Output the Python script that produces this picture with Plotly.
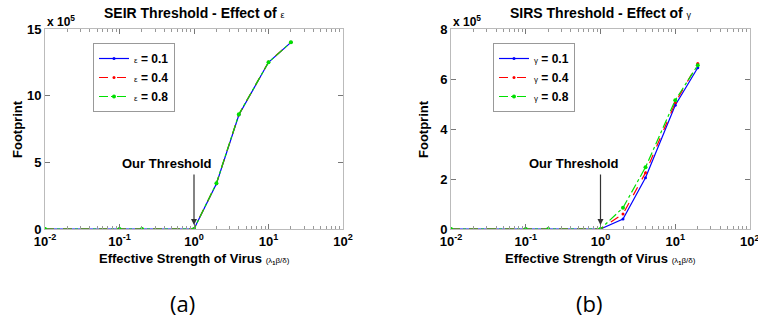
import math
import plotly.graph_objects as go

# Effective virus strength (lambda_1 * beta / delta)
strength = [0.01, 0.1, 0.2, 1, 2, 4, 10, 20]

# SEIR footprint (x 10^5) for each epsilon
seir_eps_01 = [0, 0, 0, 0, 3.40, 8.55, 12.50, 14.00]
seir_eps_04 = [0, 0, 0, 0, 3.42, 8.58, 12.52, 14.00]
seir_eps_08 = [0, 0, 0, 0, 3.43, 8.60, 12.50, 14.00]

# SIRS footprint (x 10^5) for each gamma
sirs_gam_01 = [0, 0, 0, 0, 0.40, 2.05, 4.95, 6.45]
sirs_gam_04 = [0, 0, 0, 0, 0.60, 2.25, 5.05, 6.62]
sirs_gam_08 = [0, 0, 0, 0, 0.85, 2.47, 5.15, 6.55]

labels = ["0.1", "0.4", "0.8"]
x_tickvals = [0.01, 0.1, 1, 10, 100]
x_ticktext = ["10<sup>-2</sup>", "10<sup>-1</sup>", "10<sup>0</sup>", "10<sup>1</sup>", "10<sup>2</sup>"]
seir_yticks = [0, 5, 10, 15]
sirs_yticks = [0, 2, 4, 6, 8]
threshold = 1

colors = ["#0000ff", "#ff0000", "#00e000"]
dashes = ["solid", "dash", "dashdot"]
msizes = [3, 3, 4]

W, H = 758, 323
FONT = "Liberation Sans, Arial, sans-serif"

fig = go.Figure()

def add_series(ys, sym, xa, ya, legend):
    for y, lab, c, d, ms in zip(ys, labels, colors, dashes, msizes):
        fig.add_trace(go.Scatter(
            x=strength, y=y, mode="lines+markers",
            name=f"<span style='font-size:8px;font-weight:normal'>{sym}</span> = {lab}",
            line=dict(color=c, width=1.2, dash=d),
            marker=dict(color=c, size=ms),
            xaxis=xa, yaxis=ya, legend=legend,
        ))

add_series([seir_eps_01, seir_eps_04, seir_eps_08], "ε", "x", "y", "legend")
add_series([sirs_gam_01, sirs_gam_04, sirs_gam_08], "γ", "x2", "y2", "legend2")

# minor tick positions on the log axis (2..9 per decade)
minor_vals = [m * 10 ** k for k in range(-2, 2) for m in range(2, 10)]

y_dom = [(H - 229) / H, (H - 29) / H]
left_dom = [45 / W, 343 / W]
right_dom = [451 / W, 750 / W]

def xaxis_cfg(dom, anchor):
    return dict(
        type="log", domain=dom, anchor=anchor, range=[-2, 2],
        tickvals=x_tickvals, ticktext=x_ticktext,
        ticks="inside", ticklen=5, tickcolor="#777",
        showline=True, linecolor="#bbbbbb", linewidth=1, mirror="allticks",
        showgrid=False, zeroline=False, automargin=False,
        tickfont=dict(family=FONT, size=13, color="black", weight="bold"),
        minor=dict(tickvals=minor_vals, ticks="inside", ticklen=3, tickcolor="#999"),
    )

def yaxis_cfg(rng, tv, anchor):
    return dict(
        domain=y_dom, anchor=anchor, range=rng, tickvals=tv,
        ticks="inside", ticklen=5, tickcolor="#777",
        showline=True, linecolor="#bbbbbb", linewidth=1, mirror="allticks",
        showgrid=False, zeroline=False, automargin=False,
        tickfont=dict(family=FONT, size=13, color="black", weight="bold"),
    )

legend_common = dict(
    bgcolor="white", bordercolor="#999", borderwidth=1,
    font=dict(family=FONT, size=12, color="black", weight="bold"),
    tracegroupgap=0, itemwidth=30, xanchor="left", yanchor="top",
)

fig.update_layout(
    width=W, height=H, margin=dict(l=0, r=0, t=0, b=0, autoexpand=False),
    paper_bgcolor="white", plot_bgcolor="white",
    xaxis=xaxis_cfg(left_dom, "y"),
    yaxis=yaxis_cfg([0, 15], seir_yticks, "x"),
    xaxis2=xaxis_cfg(right_dom, "y2"),
    yaxis2=yaxis_cfg([0, 8], sirs_yticks, "x2"),
    legend=dict(x=93 / W, y=1 - 43 / H, **legend_common),
    legend2=dict(x=493 / W, y=1 - 43 / H, **legend_common),
    showlegend=True,
)

def paper_text(px, py, text, size, family=FONT, angle=0, xanchor="center"):
    return dict(
        x=px / W, y=1 - py / H, xref="paper", yref="paper", showarrow=False,
        xanchor=xanchor, yanchor="middle", textangle=angle, text=text,
        font=dict(family=family, size=size, color="black"),
    )

ann = []
for cx, sym, name, xl, xr, yr, cap in [
    ((45 + 343) / 2, "ε", "SEIR", 45, "x", "y", "(a)"),
    ((451 + 750) / 2, "γ", "SIRS", 451, "x2", "y2", "(b)"),
]:
    ann.append(paper_text(cx, 13,
        f"<b>{name} Threshold - Effect of </b><span style='font-size:9px'>{sym}</span>", 14))
    ann.append(paper_text(xl, 21, "<b>x 10<sup>5</sup></b>", 12, xanchor="left"))
    ann.append(paper_text(cx, 258,
        "<b>Effective Strength of Virus</b> <span style='font-size:8px'>(λ<sub><b>1</b></sub>β/δ)</span>", 13))
    ann.append(paper_text(xl - 27, 129, "<b>Footprint</b>", 13, angle=-90))
    ann.append(paper_text(cx - 12, 303, cap, 22, family="Open Sans"))
    # threshold label and arrow pointing at strength = 1
    ann.append(dict(
        x=math.log10(threshold), y=0, xref=xr, yref=yr, showarrow=False,
        xanchor="center", yanchor="middle", xshift=-27, yshift=66,
        text="<b>Our Threshold</b>",
        font=dict(family=FONT, size=13, color="black"),
    ))
    ann.append(dict(
        x=math.log10(threshold), y=0, xref=xr, yref=yr,
        ax=0, ay=-56, text="", showarrow=True,
        arrowhead=2, arrowsize=1, arrowwidth=1.2, arrowcolor="#333", standoff=4,
    ))

# last decade label of the right panel runs past the page edge
ann.append(dict(
    x=math.log10(x_tickvals[-1]), y=1 - 241 / H, xref="x2", yref="paper",
    showarrow=False, xanchor="center", yanchor="middle",
    text="<b>" + x_ticktext[-1] + "</b>",
    font=dict(family=FONT, size=13, color="black"),
))

fig.update_layout(annotations=ann)
fig.write_html("out.html")
